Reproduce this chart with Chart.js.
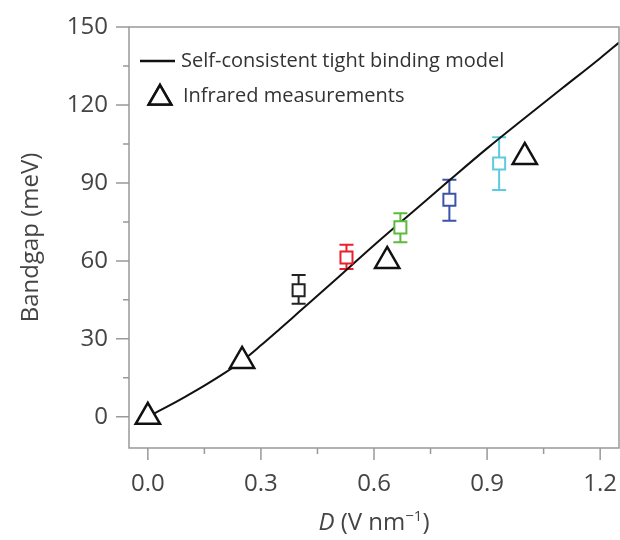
<!DOCTYPE html>
<html>
<head>
<meta charset="utf-8">
<script src="https://cdn.jsdelivr.net/npm/chart.js@4.4.1/dist/chart.umd.min.js"></script>
<style>
html, body { margin: 0; padding: 0; background: #fff; }
#wrap { width: 620px; height: 540px; position: relative; }
</style>
</head>
<body>
<div id="wrap"><canvas id="bandgapChart"></canvas></div>
<script>
// self-consistent tight binding model
const modelD = [0, 0.05, 0.1, 0.15, 0.2, 0.25, 0.3, 0.35, 0.4, 0.5, 0.6, 0.7, 0.8, 0.9, 1.0, 1.1, 1.2, 1.25];
const modelGap = [0, 3.8, 7.8, 12, 16.5, 21.5, 27.5, 33.8, 40.2, 53, 66, 78.5, 91, 103.3, 115, 126.5, 138, 144];

// infrared measurements (triangles)
const irD = [0, 0.25, 0.635, 1.0];
const irGap = [0, 21.5, 60, 100];

// squares with error bars
const sqD = [0.4, 0.527, 0.67, 0.8, 0.932];
const sqGap = [48.7, 61.3, 72.9, 83.5, 97.5];
const sqLow = [43.5, 56.9, 67.2, 75.4, 87.3];
const sqHigh = [54.6, 66.2, 78.3, 91.2, 107.6];
const sqColors = ['#222222', '#e8202a', '#5dba3b', '#3a54a8', '#5ccbe0'];

// axes
const xTicks = [0, 0.3, 0.6, 0.9, 1.2];
const xMinor = [0.15, 0.45, 0.75, 1.05];
const yTicks = [0, 30, 60, 90, 120, 150];
const yMinor = [15, 45, 75, 105, 135];

const legendLabels = ['Self-consistent tight binding model', 'Infrared measurements'];
const yTitle = 'Bandgap (meV)';

const FONT = '"Open Sans", "DejaVu Sans", sans-serif';
const AXIS_COLOR = '#999';
const TEXT_COLOR = '#444';

const toXY = (xs, ys) => xs.map((x, i) => ({ x: x, y: ys[i] }));

// error bars go under the squares
const errorBars = {
    id: 'errorBars',
    beforeDatasetsDraw(chart) {
        const { ctx, scales: { x, y } } = chart;
        ctx.save();
        ctx.lineWidth = 2;
        sqD.forEach((d, i) => {
            const px = x.getPixelForValue(d);
            const top = y.getPixelForValue(sqHigh[i]);
            const bot = y.getPixelForValue(sqLow[i]);
            ctx.strokeStyle = sqColors[i];
            ctx.beginPath();
            ctx.moveTo(px, top); ctx.lineTo(px, bot);
            ctx.moveTo(px - 7, top); ctx.lineTo(px + 7, top);
            ctx.moveTo(px - 7, bot); ctx.lineTo(px + 7, bot);
            ctx.stroke();
        });
        ctx.restore();
    }
};

// frame, tick marks, legend and axis titles
const decorations = {
    id: 'decorations',
    afterDraw(chart) {
        const { ctx, chartArea: a, scales: { x, y } } = chart;
        ctx.save();
        ctx.strokeStyle = AXIS_COLOR;
        ctx.lineWidth = 1.5;
        ctx.strokeRect(a.left, a.top, a.right - a.left, a.bottom - a.top);

        ctx.beginPath();
        xTicks.forEach(v => { const p = x.getPixelForValue(v); ctx.moveTo(p, a.bottom); ctx.lineTo(p, a.bottom + 12); });
        xMinor.forEach(v => { const p = x.getPixelForValue(v); ctx.moveTo(p, a.bottom); ctx.lineTo(p, a.bottom + 6); });
        yTicks.forEach(v => { const p = y.getPixelForValue(v); ctx.moveTo(a.left, p); ctx.lineTo(a.left - 13, p); });
        yMinor.forEach(v => { const p = y.getPixelForValue(v); ctx.moveTo(a.left, p); ctx.lineTo(a.left - 6, p); });
        ctx.stroke();

        // legend
        ctx.strokeStyle = '#111';
        ctx.lineWidth = 2.5;
        ctx.beginPath();
        ctx.moveTo(140, 61); ctx.lineTo(175, 61);
        ctx.stroke();
        ctx.lineWidth = 2.5;
        ctx.fillStyle = '#fff';
        Chart.helpers.drawPoint(ctx, { pointStyle: 'triangle', radius: 13, rotation: 0, borderWidth: 2.5 }, 160, 98);
        ctx.fill();
        ctx.stroke();

        ctx.fillStyle = '#333';
        ctx.font = '20px ' + FONT;
        ctx.textBaseline = 'middle';
        ctx.textAlign = 'left';
        ctx.fillText(legendLabels[0], 181, 61);
        ctx.fillText(legendLabels[1], 183, 96);

        // y title
        ctx.fillStyle = TEXT_COLOR;
        ctx.font = '24px ' + FONT;
        ctx.save();
        ctx.translate(31, (a.top + a.bottom) / 2);
        ctx.rotate(-Math.PI / 2);
        ctx.textAlign = 'center';
        ctx.fillText(yTitle, 0, 0);
        ctx.restore();

        // x title: D (V nm^-1)
        const parts = [
            { t: 'D', f: 'italic 24px ' + FONT, dy: 0 },
            { t: ' (V nm', f: '24px ' + FONT, dy: 0 },
            { t: '\u22121', f: '15px ' + FONT, dy: -9 },
            { t: ')', f: '24px ' + FONT, dy: 0 }
        ];
        let total = 0;
        parts.forEach(p => { ctx.font = p.f; p.w = ctx.measureText(p.t).width; total += p.w; });
        let cx = (a.left + a.right) / 2 - total / 2;
        ctx.textBaseline = 'alphabetic';
        ctx.textAlign = 'left';
        parts.forEach(p => { ctx.font = p.f; ctx.fillText(p.t, cx, 530 + p.dy); cx += p.w; });
        ctx.restore();
    }
};

const ctx = document.getElementById('bandgapChart');

new Chart(ctx, {
    type: 'scatter',
    data: {
        datasets: [{
            label: legendLabels[1],
            data: toXY(irD, irGap),
            pointStyle: 'triangle',
            radius: 14,
            borderWidth: 2.5,
            borderColor: '#111',
            backgroundColor: '#fff'
        }, {
            label: 'squares',
            data: toXY(sqD, sqGap),
            pointStyle: 'rect',
            radius: 8.5,
            borderWidth: 2,
            borderColor: sqColors,
            backgroundColor: '#fff'
        }, {
            label: legendLabels[0],
            data: toXY(modelD, modelGap),
            showLine: true,
            borderColor: '#111',
            borderWidth: 2,
            pointRadius: 0,
            cubicInterpolationMode: 'monotone'
        }]
    },
    options: {
        responsive: true,
        maintainAspectRatio: false,
        animation: false,
        layout: { autoPadding: false, padding: { top: 27, right: 1, left: 0, bottom: 0 } },
        plugins: {
            legend: { display: false },
            tooltip: { enabled: false }
        },
        scales: {
            x: {
                type: 'linear',
                min: -0.05,
                max: 1.25,
                afterFit: s => { s.height = 92; s.paddingLeft = 0; s.paddingRight = 0; },
                afterBuildTicks: s => { s.ticks = xTicks.map(v => ({ value: v })); },
                grid: { display: false, drawTicks: false },
                border: { display: false },
                ticks: {
                    padding: 22,
                    color: TEXT_COLOR,
                    font: { family: FONT, size: 24 },
                    callback: v => v.toFixed(1)
                }
            },
            y: {
                min: -12,
                max: 150,
                afterFit: s => { s.width = 129; s.paddingTop = 0; s.paddingBottom = 0; },
                afterBuildTicks: s => { s.ticks = yTicks.map(v => ({ value: v })); },
                grid: { display: false, drawTicks: false },
                border: { display: false },
                ticks: {
                    padding: 21,
                    color: TEXT_COLOR,
                    font: { family: FONT, size: 24 }
                }
            }
        }
    },
    plugins: [errorBars, decorations]
});
</script>
</body>
</html>
